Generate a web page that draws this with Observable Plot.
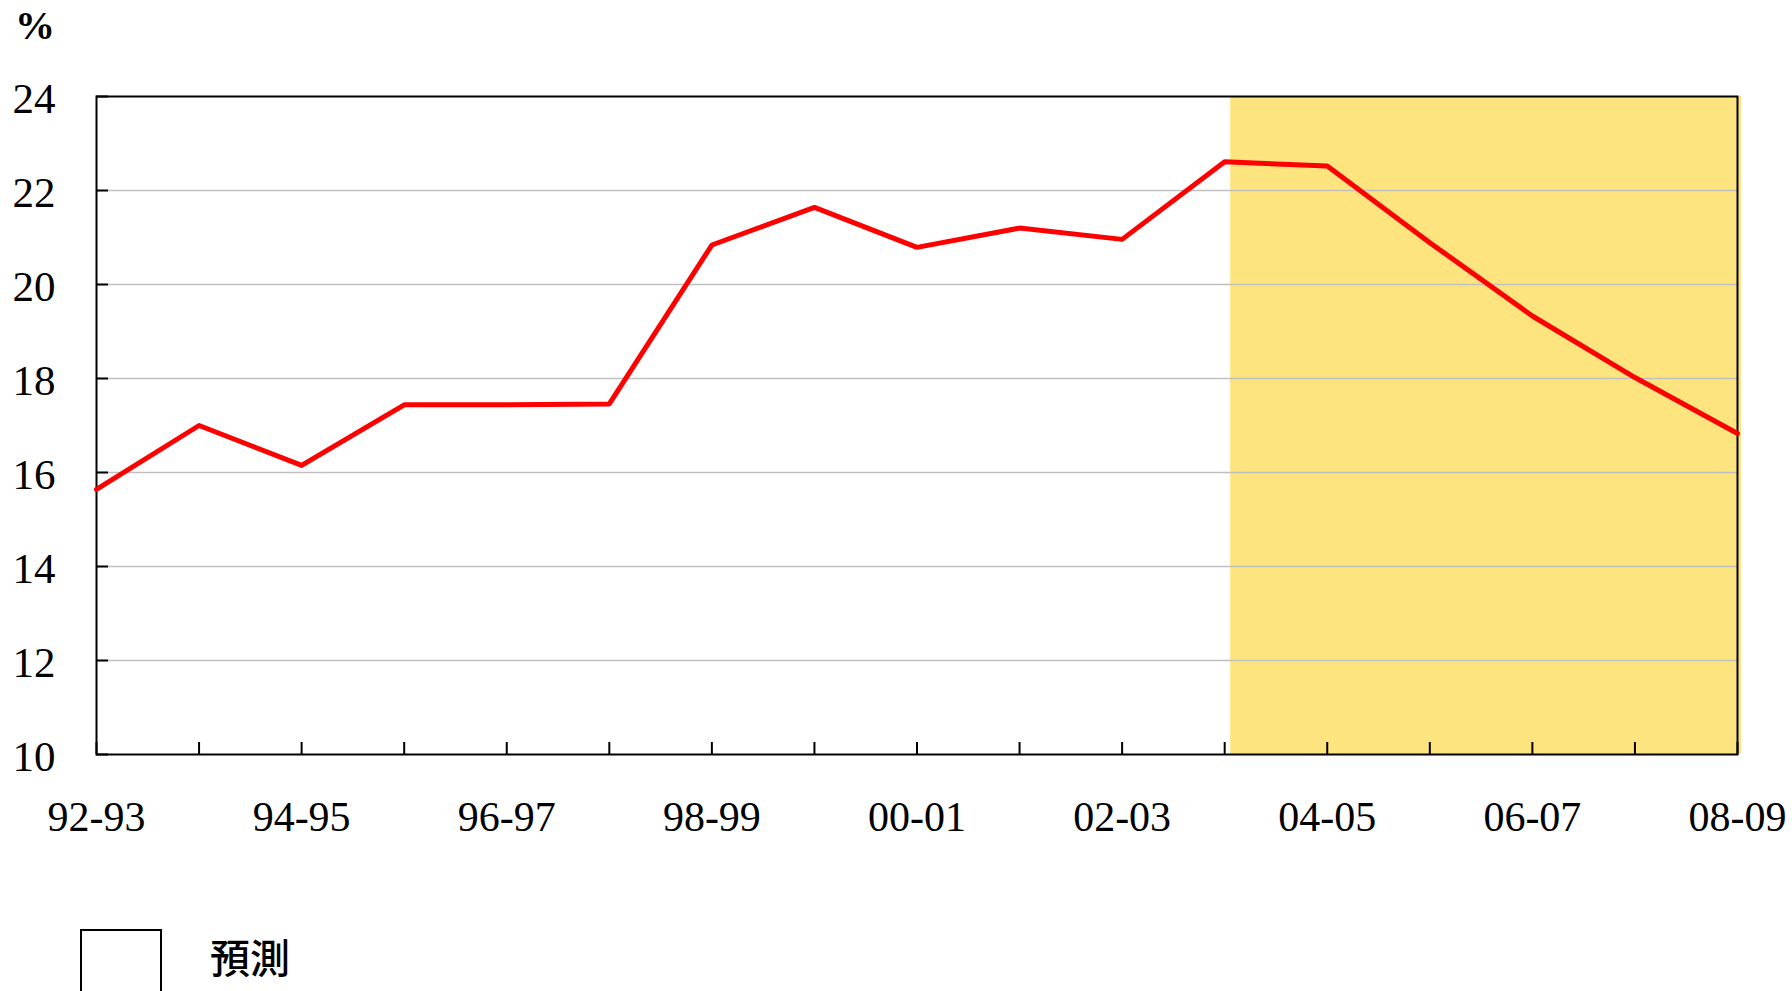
<!DOCTYPE html>
<html>
<head>
<meta charset="utf-8">
<script src="https://cdn.jsdelivr.net/npm/d3@7"></script>
<script src="https://cdn.jsdelivr.net/npm/@observablehq/plot@0.6"></script>
<style>
  html, body { margin: 0; padding: 0; background: #fff; overflow: hidden; }
  #wrap { position: relative; width: 1792px; height: 991px; }
  #unit { position: absolute; left: 15px; top: 2px; font-family: "Liberation Serif", "Times New Roman", serif; font-weight: bold; font-size: 40px; }
  #legend-box { position: absolute; left: 80px; top: 929px; width: 78px; height: 80px; border: 2px solid #000; background: #fff; }
  #legend-text { position: absolute; left: 210px; top: 931px; font-family: "Noto Sans CJK TC", sans-serif; font-weight: 500; font-size: 40px; line-height: 50px; }
</style>
</head>
<body>
<div id="wrap">
  <div id="chart"></div>
  <div id="unit">%</div>
  <div id="legend-box"></div>
  <div id="legend-text">預測</div>
</div>
<script>
const categories = ["92-93","93-94","94-95","95-96","96-97","97-98","98-99","99-00","00-01","01-02","02-03","03-04","04-05","05-06","06-07","07-08","08-09"];
const shareValues = [15.64, 17.0, 16.15, 17.44, 17.44, 17.46, 20.84, 21.64, 20.79, 21.2, 20.96, 22.61, 22.52, 20.89, 19.33, 18.02, 16.83];
const yTicks = [10, 12, 14, 16, 18, 20, 22, 24];
const gridTicks = [12, 14, 16, 18, 20, 22];
const xTickLabels = ["92-93","94-95","96-97","98-99","00-01","02-03","04-05","06-07","08-09"];
const forecastRange = ["03-04", "08-09"];

const data = categories.map((c, i) => ({i, cat: c, v: shareValues[i]}));
const idx = c => categories.indexOf(c);
const shade = [{x1: idx(forecastRange[0]), x2: idx(forecastRange[1])}];
const serif = "Liberation Serif";

const chart = Plot.plot({
  width: 1792,
  height: 991,
  marginLeft: 96,
  marginRight: 55,
  marginTop: 96,
  marginBottom: 237,
  style: {fontFamily: serif, fontSize: "42px", color: "#000", background: "transparent"},
  x: {type: "linear", domain: [0, categories.length - 1]},
  y: {domain: [10, 24]},
  marks: [
    Plot.rect(shade, {x1: "x1", x2: "x2", fill: "#fde47f", insetLeft: 6, insetRight: -4}),
    Plot.gridY({ticks: gridTicks, stroke: "#c0c0c0", strokeOpacity: 1, strokeWidth: 1.5}),
    Plot.axisY({ticks: yTicks, tickSize: 0, tickPadding: 41, fontSize: 43, fontFamily: serif, dy: 3, label: null}),
    Plot.axisY({ticks: yTicks, tickSize: -12, tickFormat: () => "", strokeWidth: 2, label: null}),
    Plot.axisX({ticks: xTickLabels.map(idx), tickSize: 0, tickPadding: 47, tickFormat: i => categories[i], fontSize: 42, fontFamily: serif, label: null}),
    Plot.axisX({ticks: categories.map((c, i) => i), tickSize: -12, tickFormat: () => "", strokeWidth: 2, label: null}),
    Plot.frame({stroke: "#000", strokeWidth: 2}),
    Plot.line(data, {x: "i", y: "v", stroke: "#ff0000", strokeWidth: 5})
  ]
});
d3.select(chart).attr("font-family", serif);
d3.select(chart).selectAll("g, text").attr("font-family", serif).style("font-family", serif);
document.getElementById("chart").appendChild(chart);
</script>
</body>
</html>
